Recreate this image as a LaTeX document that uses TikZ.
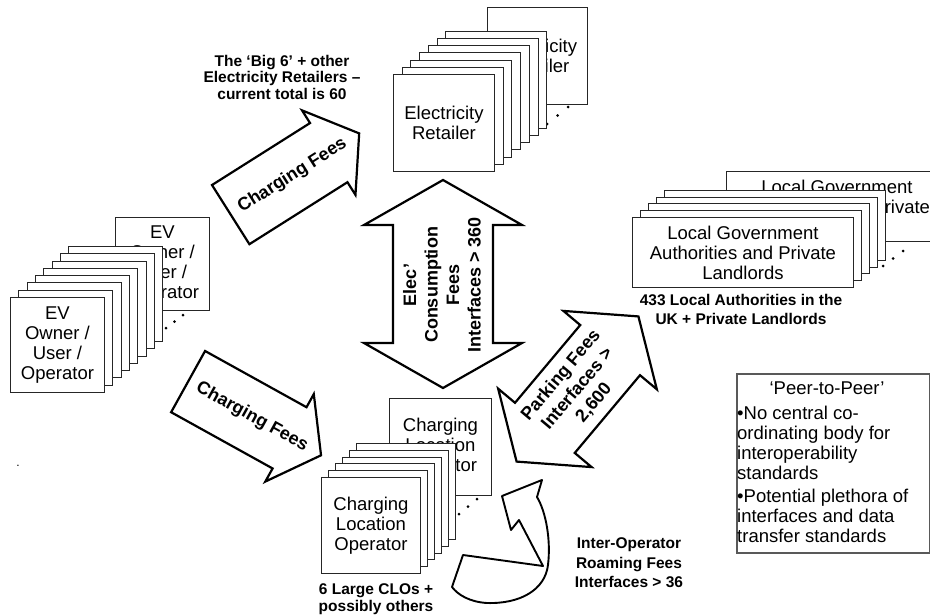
\documentclass[tikz,border=0pt]{standalone}
\usepackage{fontspec}
\setmainfont{Liberation Sans}
\begin{document}
\begin{tikzpicture}[x=1pt,y=-1pt,
  stackbox/.style={draw=black!85, line width=0.9pt, fill=white, anchor=north west, inner sep=0pt, align=center, font=\fontsize{18.5}{20}\selectfont},
  bigarrow/.style={draw=black, line width=2.2pt, fill=white, line join=miter},
  lbl/.style={font=\bfseries\fontsize{15.5}{17.5}\selectfont, align=center, inner sep=0pt},
  arrtxt/.style={font=\bfseries\fontsize{18}{21.5}\selectfont, align=center, inner sep=0pt},
  trail/.style={circle, fill=black, inner sep=0pt, minimum size=3pt},
  bodytxt/.style={font=\fontsize{18.5}{20}\selectfont, inner sep=0pt, align=left}]
\clip (0,0) rectangle (930,616);
\fill[white] (0,0) rectangle (930,616);

% ---------- Electricity retailer stack ----------
\node[stackbox, minimum width=100pt, minimum height=97pt] (retfar) at (487,7) {Electricity\\Retailer};
\node[trail] (retd1) at (547,124) {};
\node[trail] (retd2) at (557.5,115.5) {};
\node[trail] (retd3) at (568,107) {};
\foreach \i in {6,5,...,1}
  \node[stackbox, minimum width=101pt, minimum height=97pt] (ret\i) at ({393+8.7*\i},{74-7.2*\i}) {};
\node[stackbox, minimum width=101pt, minimum height=97pt] (ret0) at (393,74) {Electricity\\Retailer};

% ---------- EV owner stack ----------
\node[stackbox, minimum width=94pt, minimum height=93pt] (evfar) at (115,217) {EV\\Owner /\\User /\\Operator};
\node[trail] (evd1) at (166,328) {};
\node[trail] (evd2) at (174.5,321.5) {};
\node[trail] (evd3) at (183,315) {};
\foreach \i in {7,6,...,1}
  \node[stackbox, minimum width=94pt, minimum height=95pt] (ev\i) at ({10+8.3*\i},{297-7.3*\i}) {};
\node[stackbox, minimum width=94pt, minimum height=95pt] (ev0) at (10,297) {EV\\Owner /\\User /\\Operator};

% ---------- Local government stack ----------
\node[stackbox, minimum width=221pt, minimum height=70pt] (lgfar) at (726,171) {Local Government\\Authorities and Private\\Landlords};
\node[trail] (lgd1) at (883,266) {};
\node[trail] (lgd2) at (893,258.5) {};
\node[trail] (lgd3) at (903,251) {};
\foreach \i in {4,3,...,1}
  \node[stackbox, minimum width=221pt, minimum height=70pt] (lg\i) at ({632+8*\i},{217-6.8*\i}) {};
\node[stackbox, minimum width=221pt, minimum height=70pt] (lg0) at (632,217) {Local Government\\Authorities and Private\\Landlords};

% ---------- Charging location operator stack ----------
\node[stackbox, minimum width=102pt, minimum height=97pt] (clofar) at (389,398) {Charging\\Location\\Operator};
\node[trail] (clod1) at (459,514) {};
\node[trail] (clod2) at (468,506.5) {};
\node[trail] (clod3) at (477,499) {};
\foreach \i in {5,4,...,1}
  \node[stackbox, minimum width=99pt, minimum height=96pt] (clo\i) at ({321+7*\i},{477-6.8*\i}) {};
\node[stackbox, minimum width=99pt, minimum height=96pt] (clo0) at (321,477) {Charging\\Location\\Operator};

% ---------- labels ----------
\node[lbl, font=\bfseries\fontsize{15.5}{16.5}\selectfont] (biglbl) at (282,77) {The ‘Big 6’ + other\\Electricity Retailers –\\current total is 60};
\node[lbl, font=\bfseries\fontsize{15.5}{19}\selectfont] (lglbl) at (741,309) {433 Local Authorities in the\\UK + Private Landlords};
\node[lbl, font=\bfseries\fontsize{15.5}{17}\selectfont] (clolbl) at (376,599) {6 Large CLOs +\\possibly others};
\node[lbl, font=\bfseries\fontsize{15.5}{19.5}\selectfont] (roamlbl) at (629,563) {Inter-Operator\\Roaming Fees\\Interfaces > 36};
\node[inner sep=0pt, font=\fontsize{12}{12}\selectfont] (stray) at (18,466) {.};

% ---------- Charging fees arrows ----------
\begin{scope}[shift={(230.7,214.6)}, rotate=32.3]
  \draw[bigarrow] (0,-35) -- (116,-35) -- (116,-50) -- (152,0) -- (116,50) -- (116,35) -- (0,35) -- cycle;
  \node[arrtxt, rotate=32.3] (cf1) at (73,0) {Charging Fees};
\end{scope}
\begin{scope}[shift={(188.1,381.6)}, rotate=-29]
  \draw[bigarrow] (0,-35) -- (116,-35) -- (116,-50) -- (152,0) -- (116,50) -- (116,35) -- (0,35) -- cycle;
  \node[arrtxt, rotate=-29] (cf2) at (73,0) {Charging Fees};
\end{scope}

% ---------- Elec consumption double arrow ----------
\draw[bigarrow] (443,180) -- (522,225) -- (493,225) -- (493,343) -- (522,343) -- (443,388)
  -- (364,343) -- (393,343) -- (393,225) -- (364,225) -- cycle;
\node[arrtxt, rotate=90] (elec) at (442,285) {Elec’\\Consumption\\Fees\\Interfaces > 360};

% ---------- Parking fees double arrow ----------
\begin{scope}[shift={(577.5,389)}, rotate=50]
  \draw[bigarrow] (-94.75,0) -- (-50.75,-61) -- (-50.75,-39) -- (50.75,-39) -- (50.75,-61) -- (94.75,0)
    -- (50.75,61) -- (50.75,39) -- (-50.75,39) -- (-50.75,61) -- cycle;
  \node[arrtxt, rotate=50] (park) at (0,0) {Parking Fees\\Interfaces >\\2,600};
\end{scope}

% ---------- Curved roaming arrow (twisted ribbon) ----------
\draw[bigarrow, line width=1.9pt, line join=round]
  (502,496) -- (542,480) -- (537,497)
  .. controls (546,512) and (551,540) .. (548,565)
  .. controls (545,590) and (520,604) .. (487,603)
  .. controls (470,602) and (458,595) .. (452,587)
  -- (463,555)
  -- (543,566)
  -- (519,520)
  -- (511,530) -- cycle;

% ---------- Peer-to-peer box ----------
\node[draw=black!65, line width=1.8pt, anchor=north west, minimum width=193pt, minimum height=179pt, inner sep=0pt] (peer) at (736,373) {};
\node[bodytxt, anchor=base] (peertitle) at (827,394) {‘Peer-to-Peer’};
\node[bodytxt, anchor=base west] (peerb1) at (737,479) {•No central co-\\ordinating body for\\interoperability\\standards};
\node[bodytxt, anchor=base west] (peerb2) at (737,542) {•Potential plethora of\\interfaces and data\\transfer standards};
\end{tikzpicture}
\end{document}
